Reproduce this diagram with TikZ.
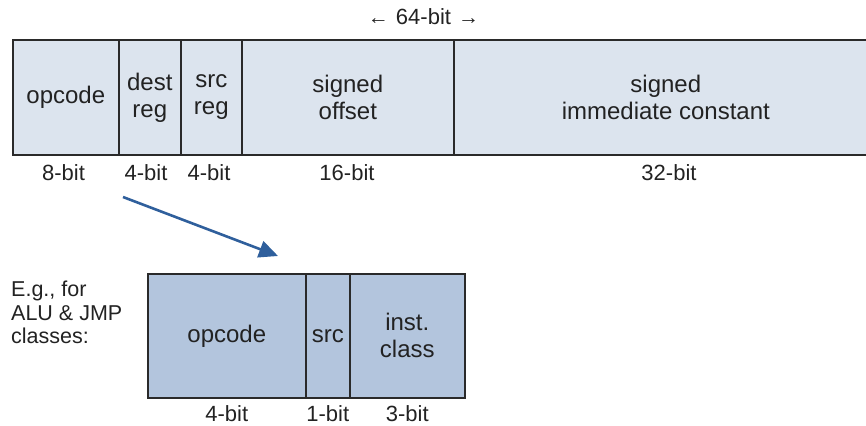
\documentclass[tikz,border=0pt]{standalone}
\usepackage{fontspec}
\setmainfont{Liberation Sans}
\usetikzlibrary{arrows.meta}

\definecolor{fieldlight}{HTML}{DCE4EE}
\definecolor{fielddark}{HTML}{B3C5DD}
\definecolor{inkline}{HTML}{2A2A2A}
\definecolor{textink}{HTML}{222222}
\definecolor{arrowblue}{HTML}{2F5F9C}

\newcommand{\widtharrow}[1]{{\fontsize{21}{21}\selectfont #1}}

\begin{document}
\begin{tikzpicture}[x=1pt, y=-1pt,
  field/.style={draw=inkline, line width=1.6pt, inner sep=0pt, anchor=north west,
    align=center, text=textink, font=\fontsize{24}{27}\selectfont},
  toprow/.style={field, fill=fieldlight, minimum height=115},
  lowrow/.style={field, fill=fielddark, minimum height=124},
  bitlabel/.style={text=textink, font=\fontsize{22}{24}\selectfont, inner sep=0pt,
    text height=16, text depth=0},
  note/.style={text=textink, font=\fontsize{21.5}{23.5}\selectfont, align=left,
    inner sep=0pt, anchor=north west},
  linkarrow/.style={draw=arrowblue, line width=2.6pt,
    -{Triangle[length=19pt, width=17pt]}}
]
\useasboundingbox (0,0) rectangle (866,425);

% 64-bit instruction layout
\node[toprow, minimum width=106] (op)  at (12,39)  {opcode};
\node[toprow, minimum width=62]  (dst) at (118,39) {dest\\reg};
\node[toprow, minimum width=61]  (src) at (180,39) {src\\reg};
\node[toprow, minimum width=212] (off) at (241,39) {signed\\offset};
\node[toprow, minimum width=424] (imm) at (453,39) {signed\\immediate constant};

\node[text=textink, inner sep=0pt, font=\fontsize{22}{24}\selectfont] (width) at (423.5,17)
  {\widtharrow{←}\hspace{7pt}64-bit\hspace{7pt}\widtharrow{→}};

\node[bitlabel] (opbits)  at (63.5,172) {8-bit};
\node[bitlabel] (dstbits) at (146,172)  {4-bit};
\node[bitlabel] (srcbits) at (209,172)  {4-bit};
\node[bitlabel] (offbits) at (347,172)  {16-bit};
\node[bitlabel] (immbits) at (669,172)  {32-bit};

% opcode byte breakdown
\node[lowrow, minimum width=158] (op2)  at (147,273) {opcode};
\node[lowrow, minimum width=44]  (src2) at (305,273) {src};
\node[lowrow, minimum width=115] (cls)  at (349,273) {inst.\\class};

\node[bitlabel] (op2bits)  at ([yshift=-15]op2.south)  {4-bit};
\node[bitlabel] (src2bits) at ([yshift=-15]src2.south) {1-bit};
\node[bitlabel] (clsbits)  at ([yshift=-15]cls.south)  {3-bit};

\node[note] (eg) at (11,281) {E.g., for\\ALU \& JMP\\classes:};

\coordinate (from) at (123,197);
\coordinate (to)   at (278,256);
\draw[linkarrow] (from) -- (to);
\end{tikzpicture}
\end{document}
